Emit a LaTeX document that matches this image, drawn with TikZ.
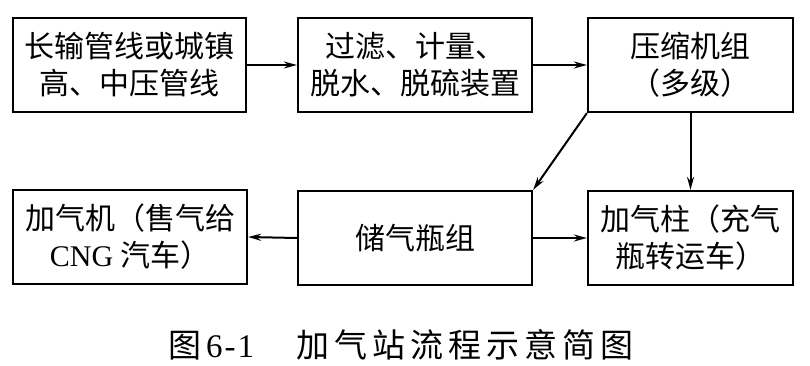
\documentclass[tikz,border=0pt]{standalone}
\usepackage{fontspec}
\setmainfont{Noto Sans CJK SC}
\newfontfamily\latinf{Liberation Serif}
\usetikzlibrary{arrows.meta}
\begin{document}
\begin{tikzpicture}[x=1pt,y=-1pt,
  box/.style={draw,line width=2.2pt,inner sep=0pt,align=center,
    font=\fontsize{30}{37}\selectfont},
  topbox/.style={box,minimum height=94pt},
  arr/.style={line width=2pt,-{Stealth[length=13pt,width=7pt]}}]
\useasboundingbox (0,0) rectangle (810,366);
\fill[white] (0,0) rectangle (810,366);
\node[topbox,minimum width=233pt] (b1) at (129.5,65) {长输管线或城镇\\高、中压管线};
\node[topbox,minimum width=234pt] (b2) at (415,65) {过滤、计量、\\脱水、脱硫装置};
\node[topbox,minimum width=205pt] (b3) at (690.5,65) {压缩机组\\（多级）};
\node[topbox,minimum width=234pt] (b4) at (130,237) {加气机（售气给\\{\latinf CNG} 汽车）};
\node[topbox,minimum width=234pt] (b5) at (415,238) {储气瓶组};
\node[topbox,minimum width=205pt] (b6) at (690.5,238) {加气柱（充气\\瓶转运车）};
\draw[arr] (b1) -- (b2);
\draw[arr] (b2) -- (b3);
\draw[arr] (b3) -- (b6);
\draw[arr] (b3.south west) -- (b5.north east);
\draw[arr] (b5.west) -- (b4.east);
\draw[arr] (b5.east) -- (b6.west);
\node[anchor=base west,inner sep=0pt,font=\fontsize{33}{36}\selectfont] (cap) at (168,357)
  {图\hspace{5pt}{\latinf 6\hspace{2pt}-\hspace{2pt}1}\hspace{42pt}加\hspace{5pt}气\hspace{5pt}站\hspace{5pt}流\hspace{5pt}程\hspace{5pt}示\hspace{5pt}意\hspace{5pt}简\hspace{5pt}图};
\end{tikzpicture}
\end{document}
